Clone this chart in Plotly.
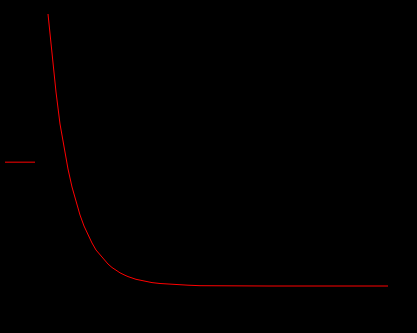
import plotly.graph_objects as go

# sampled decay series (x = step, y = value above the plateau)
steps = [0, 4, 8, 12, 16, 20, 24, 28, 32, 36, 40, 44, 48, 52, 56, 60, 64, 68, 72, 76,
         80, 88, 96, 104, 112, 120, 130, 140, 152, 180, 220, 260, 300, 340]
values = [272, 230, 194, 162, 139, 117, 99, 84, 71, 60, 51, 43, 36, 31, 26, 22, 18.5, 15.6,
          13.2, 11.2, 9.4, 6.7, 4.8, 3.4, 2.5, 1.8, 1.2, 0.8, 0.3, 0, 0, 0, 0, 0]
series_name = "loss"

fig = go.Figure()
fig.add_trace(go.Scatter(x=steps, y=values, mode="lines", name=series_name,
                         line=dict(color="#ff0000", width=1)))

fig.update_layout(
    width=417, height=333,
    margin=dict(l=0, r=0, t=0, b=0),
    paper_bgcolor="#000000", plot_bgcolor="#000000",
    showlegend=True,
    legend=dict(x=0, y=0.513, xanchor="left", yanchor="middle",
                bgcolor="rgba(0,0,0,0)", font=dict(color="#000000", size=12)),
    xaxis=dict(range=[-48, 369], visible=False, fixedrange=True),
    yaxis=dict(range=[-47, 286], visible=False, fixedrange=True),
)

fig.write_html("out.html")
